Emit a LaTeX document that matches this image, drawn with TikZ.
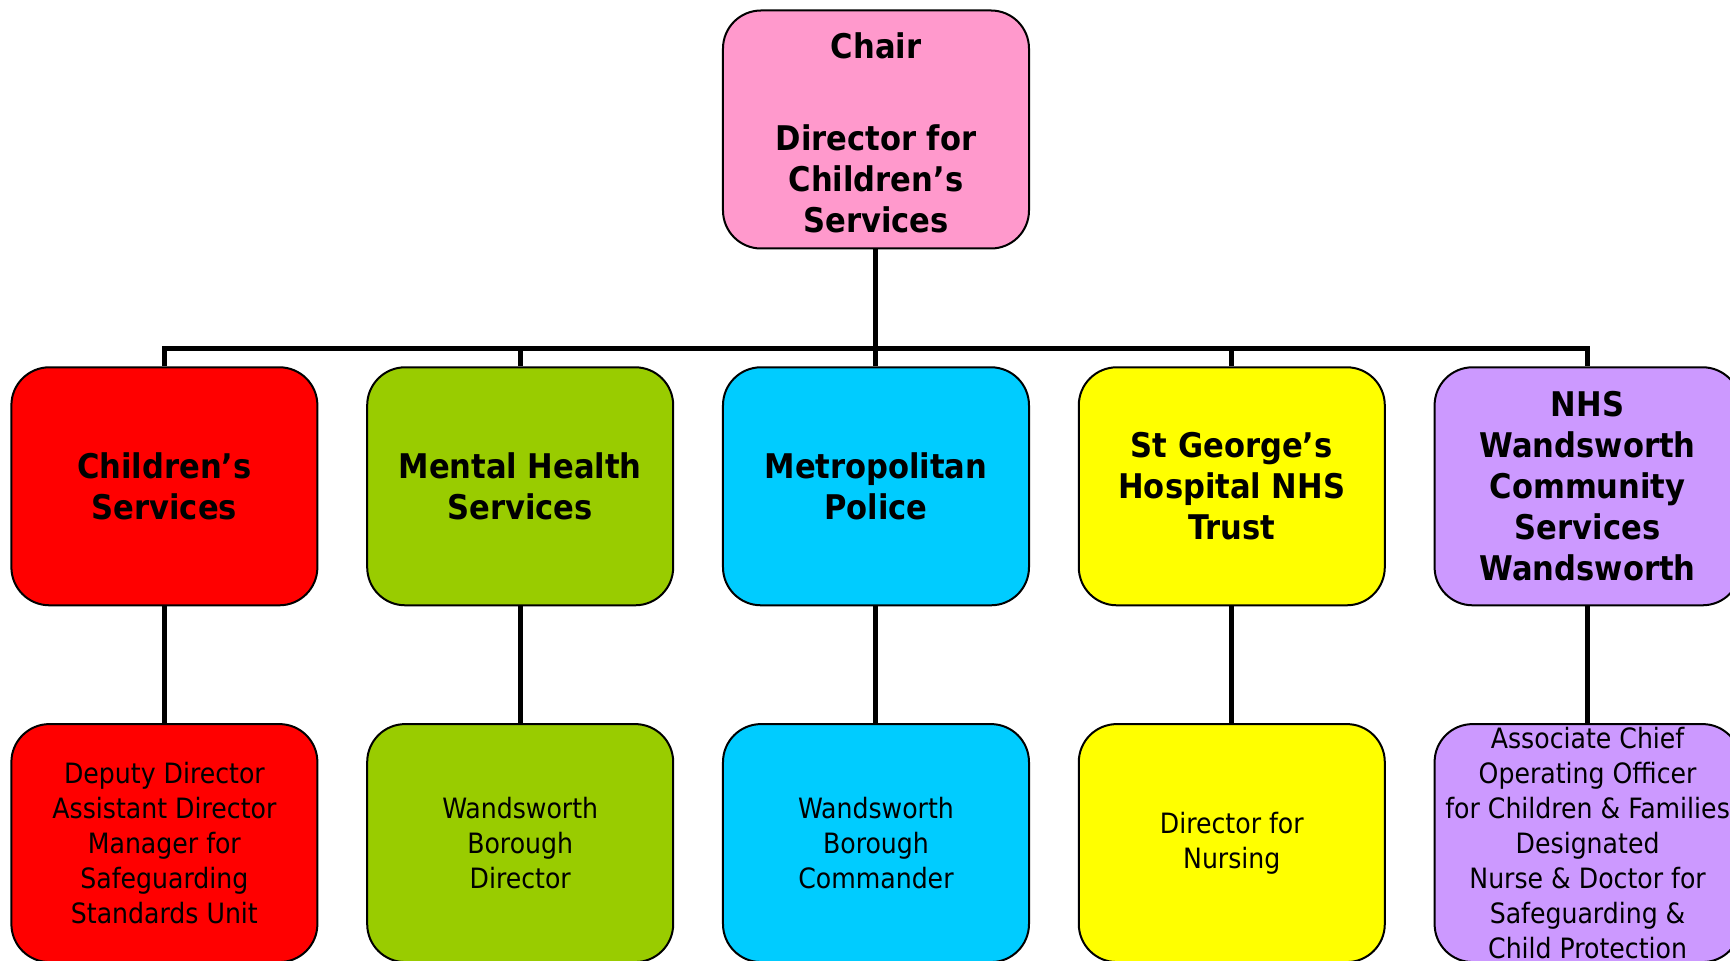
\documentclass[tikz,border=0pt]{standalone}
\usepackage{fontspec}
\setmainfont{DejaVu Sans Condensed}
\usepackage{tikz}

\definecolor{chairpink}{HTML}{FF99CC}
\definecolor{csred}{HTML}{FF0000}
\definecolor{mhgreen}{HTML}{99CC00}
\definecolor{metcyan}{HTML}{00CCFF}
\definecolor{sgyellow}{HTML}{FFFF00}
\definecolor{nhslilac}{HTML}{CC99FF}

\tikzset{
  orgbox/.style={draw, line width=1pt, rounded corners=19pt, inner sep=0pt,
    minimum width=153pt, minimum height=119pt, align=center},
  headtext/.style={font=\bfseries\fontsize{17}{20.5}\selectfont},
  posttext/.style={font=\fontsize{14}{17.5}\selectfont}
}

\begin{document}
\begin{tikzpicture}[level distance=178.4pt, sibling distance=177.9pt,
    edge from parent/.style={draw, line width=2.5pt},
    edge from parent path={(\tikzparentnode.south) -- ++(0,-49.5pt) -| (\tikzchildnode.north)}]
  \useasboundingbox (-438pt,64.75pt) rectangle (427pt,-415.75pt);
  \node (chair) [orgbox, headtext, fill=chairpink]
      {\rule{0pt}{16.5pt}Chair\\[25.3pt]Director for\\Children’s\\Services}
    child{node (childsvc) [orgbox, headtext, fill=csred] {Children’s\\Services}
      child{node (deputy) [orgbox, posttext, fill=csred]
        {Deputy Director\\Assistant Director\\Manager for\\Safeguarding\\Standards Unit}}}
    child{node (mentalhealth) [orgbox, headtext, fill=mhgreen] {Mental Health\\Services}
      child{node (borodir) [orgbox, posttext, fill=mhgreen] {Wandsworth\\Borough\\Director}}}
    child{node (police) [orgbox, headtext, fill=metcyan] {Metropolitan\\Police}
      child{node (borocmdr) [orgbox, posttext, fill=metcyan] {Wandsworth\\Borough\\Commander}}}
    child{node (stgeorges) [orgbox, headtext, fill=sgyellow] {St George’s\\Hospital NHS\\Trust}
      child{node (nursing) [orgbox, posttext, fill=sgyellow] {Director for\\Nursing}}}
    child{node (nhswands) [orgbox, headtext, fill=nhslilac]
        {NHS\\Wandsworth\\Community\\Services\\Wandsworth}
      child{node (assocchief) [orgbox, posttext, fill=nhslilac]
        {\makebox[0pt]{\smash{\raisebox{-5.5pt}{\begin{tabular}{@{}c@{}}Associate Chief\\Operating Officer\\
          for Children \& Families\\Designated\\Nurse \& Doctor for\\Safeguarding \&\\
          Child Protection\end{tabular}}}}}}};
\end{tikzpicture}
\end{document}
